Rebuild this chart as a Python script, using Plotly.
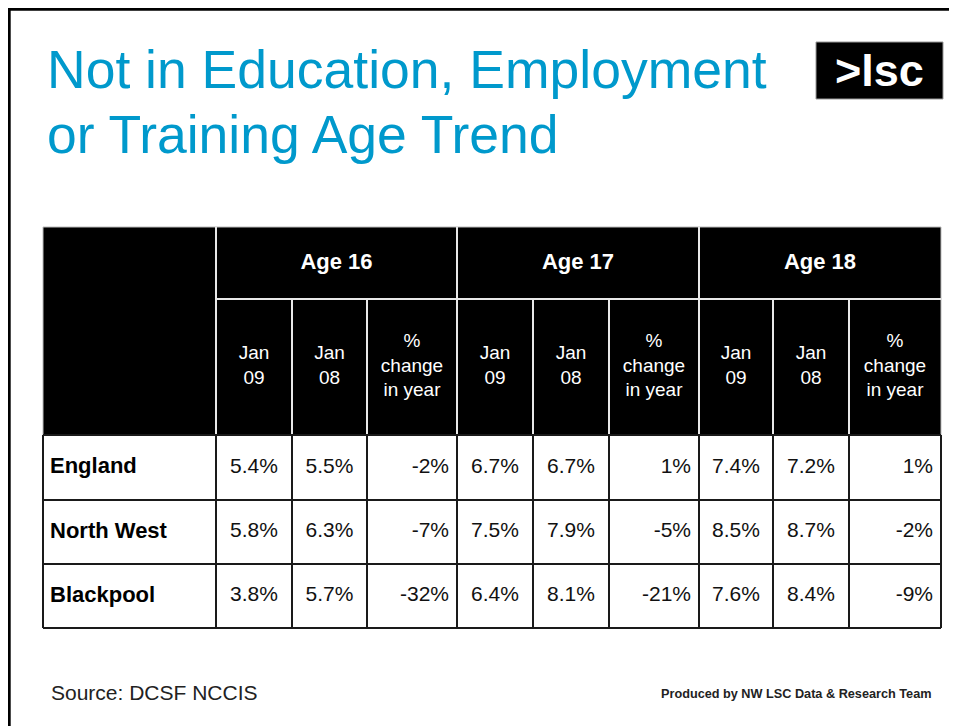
import plotly.graph_objects as go

# ---------------- data ----------------
regions = ["England", "North West", "Blackpool"]
age_groups = ["Age 16", "Age 17", "Age 18"]
sub_headers = ["Jan<br>09", "Jan<br>08", "%<br>change<br>in year"]

age16_jan09 = [5.4, 5.8, 3.8]
age16_jan08 = [5.5, 6.3, 5.7]
age16_change = [-2, -7, -32]

age17_jan09 = [6.7, 7.5, 6.4]
age17_jan08 = [6.7, 7.9, 8.1]
age17_change = [1, -5, -21]

age18_jan09 = [7.4, 8.5, 7.6]
age18_jan08 = [7.2, 8.7, 8.4]
age18_change = [1, -2, -9]

title_lines = ["Not in Education, Employment", "or Training Age Trend"]
source_text = "Source: DCSF NCCIS"
credit_text = "Produced by NW LSC Data & Research Team"
logo_text = ">lsc"

# ---------------- layout constants ----------------
W, H = 957, 726
PAGE_OFFSET = 8  # default body margin of the html page
FONT = "Liberation Sans, Arial, sans-serif"
TITLE_COLOR = "#0099CC"

table_x0 = 43
col_widths = [173, 76, 75, 90, 76, 76, 90, 74, 76, 92]
table_y0 = 227
row_heights = [72, 136, 65, 64, 64]  # header1, header2, body rows

col_edges = [table_x0]
for w in col_widths:
    col_edges.append(col_edges[-1] + w)
row_edges = [table_y0]
for h in row_heights:
    row_edges.append(row_edges[-1] + h)

x_right = col_edges[-1]
y_head_bot = row_edges[2]
y_bot = row_edges[-1]

fig = go.Figure()
shapes = []

# page frame (top + left edges of the slide)
shapes.append(dict(type="line", x0=8, x1=W + 20, y0=9.2, y1=9.2, line=dict(color="black", width=3)))
shapes.append(dict(type="line", x0=9.2, x1=9.2, y0=8, y1=H + 20, line=dict(color="black", width=3)))

# header block
shapes.append(dict(type="rect", x0=table_x0, x1=x_right, y0=table_y0, y1=y_head_bot,
                   fillcolor="black", line=dict(color="#bbbbbb", width=1), layer="below"))

# header white separators
group_edges = [col_edges[1], col_edges[4], col_edges[7]]
for xe in group_edges:
    shapes.append(dict(type="line", x0=xe, x1=xe, y0=table_y0, y1=y_head_bot,
                       line=dict(color="#e8e8e8", width=2)))
for i in [2, 3, 5, 6, 8, 9]:
    xe = col_edges[i]
    shapes.append(dict(type="line", x0=xe, x1=xe, y0=row_edges[1], y1=y_head_bot,
                       line=dict(color="#e8e8e8", width=2)))
shapes.append(dict(type="line", x0=col_edges[1], x1=x_right, y0=row_edges[1], y1=row_edges[1],
                   line=dict(color="#e8e8e8", width=2)))

# body grid
BODY_LINE = "#1a1a1a"
for ye in row_edges[3:]:
    shapes.append(dict(type="line", x0=table_x0, x1=x_right, y0=ye, y1=ye,
                       line=dict(color=BODY_LINE, width=2)))
for xe in col_edges:
    shapes.append(dict(type="line", x0=xe, x1=xe, y0=y_head_bot, y1=y_bot,
                       line=dict(color=BODY_LINE, width=2)))
shapes.append(dict(type="line", x0=table_x0, x1=x_right, y0=y_head_bot, y1=y_head_bot,
                   line=dict(color=BODY_LINE, width=2)))

# logo box
shapes.append(dict(type="rect", x0=816, x1=943, y0=42, y1=99, fillcolor="black",
                   line=dict(color="#999999", width=1)))

# ---------------- text via scatter traces ----------------
def mid(a, b):
    return (a + b) / 2.0

# header row 1: age groups
age_x = [mid(col_edges[1 + 3 * g], col_edges[4 + 3 * g]) for g in range(3)]
fig.add_trace(go.Scatter(
    x=age_x, y=[mid(row_edges[0], row_edges[1])] * 3, text=[f"<b>{a}</b>" for a in age_groups],
    mode="text", textposition="middle center",
    textfont=dict(family=FONT, size=22, color="white"), hoverinfo="skip", showlegend=False))

# header row 2: sub headers
sub_x, sub_t = [], []
for g in range(3):
    for k in range(3):
        c = 1 + 3 * g + k
        sub_x.append(mid(col_edges[c], col_edges[c + 1]))
        sub_t.append(sub_headers[k])
fig.add_trace(go.Scatter(
    x=sub_x, y=[mid(row_edges[1], row_edges[2])] * 9, text=sub_t,
    mode="text", textposition="middle center",
    textfont=dict(family=FONT, size=19, color="white"), hoverinfo="skip", showlegend=False))

row_centers = [mid(row_edges[2 + r], row_edges[3 + r]) for r in range(3)]

# row labels
fig.add_trace(go.Scatter(
    x=[col_edges[0] + 7] * 3, y=row_centers, text=[f"<b>{r}</b>" for r in regions],
    mode="text", textposition="middle right",
    textfont=dict(family=FONT, size=22, color="black"), hoverinfo="skip", showlegend=False))

series = [
    (age16_jan09, age16_jan08, age16_change),
    (age17_jan09, age17_jan08, age17_change),
    (age18_jan09, age18_jan08, age18_change),
]

val_x, val_y, val_t = [], [], []
chg_x, chg_y, chg_t = [], [], []
for g, (j09, j08, chg) in enumerate(series):
    c09 = 1 + 3 * g
    for r in range(3):
        val_x += [mid(col_edges[c09], col_edges[c09 + 1]), mid(col_edges[c09 + 1], col_edges[c09 + 2])]
        val_y += [row_centers[r]] * 2
        val_t += [f"{j09[r]:.1f}%", f"{j08[r]:.1f}%"]
        chg_x.append(col_edges[c09 + 3] - 8)
        chg_y.append(row_centers[r])
        chg_t.append(f"{chg[r]:d}%")

fig.add_trace(go.Scatter(
    x=val_x, y=val_y, text=val_t, mode="text", textposition="middle center",
    textfont=dict(family=FONT, size=21, color="#111111"), hoverinfo="skip", showlegend=False))
fig.add_trace(go.Scatter(
    x=chg_x, y=chg_y, text=chg_t, mode="text", textposition="middle left",
    textfont=dict(family=FONT, size=21, color="#111111"), hoverinfo="skip", showlegend=False))

# ---------------- annotations: title, logo, footer ----------------
annotations = [
    dict(x=45, y=69, text=title_lines[0], xanchor="left", yanchor="middle", showarrow=False,
         font=dict(family=FONT, size=53.5, color=TITLE_COLOR)),
    dict(x=45, y=134, text=title_lines[1], xanchor="left", yanchor="middle", showarrow=False,
         font=dict(family=FONT, size=53.5, color=TITLE_COLOR)),
    dict(x=879.5, y=70, text=f"<b>{logo_text}</b>", xanchor="center", yanchor="middle", showarrow=False,
         font=dict(family=FONT, size=45, color="white")),
    dict(x=49, y=692, text=source_text, xanchor="left", yanchor="middle", showarrow=False,
         font=dict(family=FONT, size=21, color="#222222")),
    dict(x=934, y=694, text=f"<b>{credit_text}</b>", xanchor="right", yanchor="middle", showarrow=False,
         font=dict(family=FONT, size=12.7, color="#222222")),
]
for a in annotations:
    a["xref"] = "x"
    a["yref"] = "y"

fig.update_layout(
    width=W, height=H,
    margin=dict(l=0, r=0, t=0, b=0),
    paper_bgcolor="white", plot_bgcolor="white",
    shapes=shapes, annotations=annotations,
    xaxis=dict(range=[PAGE_OFFSET, W + PAGE_OFFSET], visible=False, fixedrange=True),
    yaxis=dict(range=[H + PAGE_OFFSET, PAGE_OFFSET], visible=False, fixedrange=True),
    showlegend=False,
)

fig.write_html("out.html")
